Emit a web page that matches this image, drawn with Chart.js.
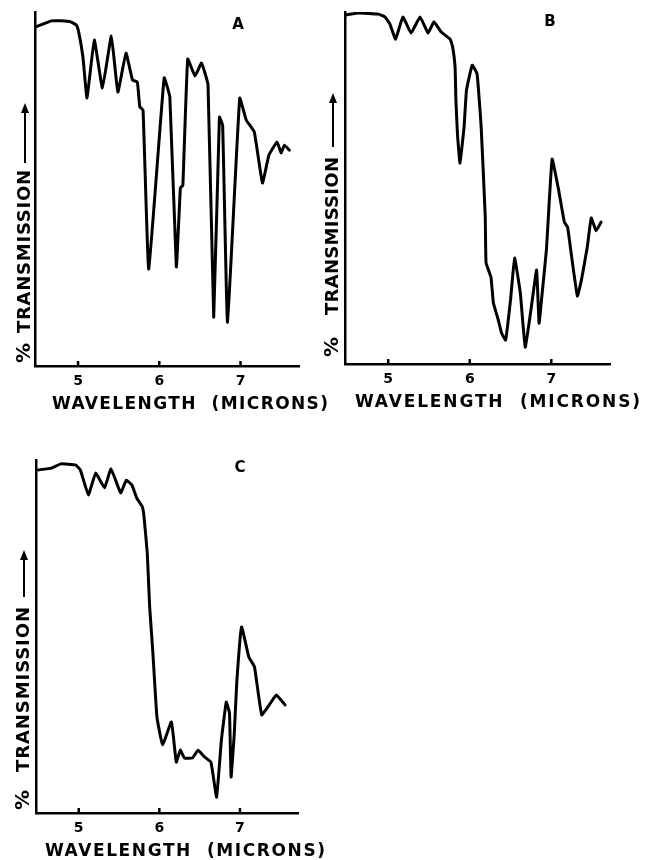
<!DOCTYPE html>
<html><head><meta charset="utf-8">
<script src="https://cdn.jsdelivr.net/npm/chart.js@4/dist/chart.umd.min.js"></script>
<style>html,body{margin:0;padding:0;background:#fff;width:646px;height:860px;overflow:hidden}canvas{position:absolute}</style>
</head><body>
<canvas id="cA" width="336" height="420" style="left:0;top:0"></canvas>
<canvas id="cB" width="336" height="420" style="left:310px;top:0"></canvas>
<canvas id="cC" width="336" height="430" style="left:0;top:430px"></canvas>
<script>
// ---- data ----
const tickValues = [5, 6, 7];
const tickLabels = ['5', '6', '7'];
const panelLabels = ['A', 'B', 'C'];
const xTitle = 'WAVELENGTH  (MICRONS)';
const yTitle = 'TRANSMISSION';
const yPercent = '%';

const wavelengthA = [4.48, 4.67, 4.79, 4.91, 4.98, 5.01, 5.06, 5.11, 5.20, 5.30, 5.41, 5.49, 5.59, 5.67, 5.73, 5.76, 5.80, 5.87, 6.06, 6.13, 6.21, 6.26, 6.29, 6.35, 6.44, 6.52, 6.60, 6.67, 6.74, 6.78, 6.84, 6.99, 7.07, 7.17, 7.27, 7.35, 7.45, 7.50, 7.54, 7.60];
const transmissionA = [95.8, 97.5, 97.5, 97.2, 96.3, 94.1, 87.3, 75.7, 92.1, 78.5, 93.2, 77.4, 88.4, 80.8, 80.2, 73.2, 72.3, 27.4, 81.4, 76.0, 28.0, 50.3, 51.0, 86.7, 81.9, 85.6, 79.4, 13.8, 70.3, 68.0, 12.4, 75.7, 69.5, 66.1, 51.7, 59.6, 63.3, 60.2, 62.4, 61.0];

const wavelengthB = [4.47, 4.63, 4.88, 4.96, 5.02, 5.09, 5.18, 5.28, 5.39, 5.49, 5.56, 5.65, 5.76, 5.79, 5.82, 5.83, 5.85, 5.88, 5.93, 5.96, 6.03, 6.09, 6.14, 6.19, 6.20, 6.26, 6.29, 6.35, 6.39, 6.44, 6.50, 6.55, 6.62, 6.68, 6.75, 6.82, 6.85, 6.88, 6.94, 7.01, 7.09, 7.16, 7.20, 7.25, 7.32, 7.37, 7.44, 7.49, 7.55, 7.61];
const transmissionB = [99.1, 99.7, 99.4, 98.6, 96.6, 92.3, 98.6, 94.0, 98.6, 94.0, 97.2, 94.3, 92.3, 90.1, 84.4, 75.0, 65.1, 57.1, 67.3, 77.8, 84.9, 82.4, 67.3, 41.8, 28.7, 24.7, 17.3, 12.5, 8.8, 6.8, 18.2, 30.1, 20.2, 4.8, 15.3, 26.7, 11.6, 18.2, 32.4, 58.2, 49.4, 40.3, 38.9, 30.4, 19.3, 23.9, 33.0, 41.5, 37.8, 40.3];

const wavelengthC = [4.50, 4.66, 4.78, 4.96, 5.02, 5.12, 5.21, 5.32, 5.40, 5.52, 5.59, 5.66, 5.72, 5.79, 5.81, 5.85, 5.88, 5.92, 5.97, 6.04, 6.15, 6.21, 6.26, 6.31, 6.41, 6.48, 6.56, 6.64, 6.71, 6.77, 6.83, 6.87, 6.89, 6.93, 6.96, 7.02, 7.11, 7.18, 7.27, 7.38, 7.45, 7.56];
const transmissionC = [97.2, 97.7, 98.9, 98.6, 97.2, 90.1, 96.3, 92.1, 97.5, 90.7, 94.3, 92.9, 89.2, 86.7, 83.9, 73.7, 58.4, 45.3, 27.2, 19.3, 25.8, 14.4, 17.8, 15.6, 15.6, 17.8, 15.9, 14.4, 4.5, 20.7, 31.4, 28.3, 10.2, 22.7, 36.8, 52.7, 44.2, 41.4, 27.8, 31.2, 33.4, 30.6];

const xMin = 4.47, xMax = 7.72, yMin = 0, yMax = 100;

// ---- drawing ----
const FONT = '"DejaVu Sans", "Liberation Sans", sans-serif';

function fitText(ctx, t, x, y, w) {
  ctx.letterSpacing = '0px';
  const m = ctx.measureText(t).width;
  const ls = (w - m) / (t.length - 1);
  ctx.letterSpacing = ls.toFixed(2) + 'px';
  ctx.fillText(t, x, y);
  ctx.letterSpacing = '0px';
}

const decor = {
  id: 'decor',
  afterDraw(chart, args, o) {
    const ctx = chart.ctx, ca = chart.chartArea, xs = chart.scales.x;
    ctx.save();
    ctx.fillStyle = '#000';
    ctx.strokeStyle = '#000';
    ctx.lineWidth = 2.5;
    tickValues.forEach(v => {
      const px = xs.getPixelForValue(v);
      ctx.beginPath();
      ctx.moveTo(px, ca.bottom);
      ctx.lineTo(px, ca.bottom - 5);
      ctx.stroke();
    });
    ctx.font = 'bold 15px ' + FONT;
    ctx.textAlign = 'center';
    ctx.textBaseline = 'middle';
    ctx.fillText(o.letter, o.letterX, o.letterY);
    ctx.font = 'bold 17px ' + FONT;
    ctx.textAlign = 'left';
    fitText(ctx, xTitle, o.xtX, o.xtY, o.xtW);
    ctx.translate(ca.left + o.ytDx, ca.bottom);
    ctx.rotate(-Math.PI / 2);
    ctx.font = 'bold 18px ' + FONT;
    ctx.textAlign = 'left';
    fitText(ctx, yTitle, o.ytStart, 0, o.ytLen);
    ctx.font = 'bold 20px ' + FONT;
    ctx.textAlign = 'center';
    ctx.fillText(yPercent, o.pct, 0);
    ctx.lineWidth = 2;
    ctx.beginPath();
    ctx.moveTo(o.arrowFrom, 0);
    ctx.lineTo(o.arrowTo - 6, 0);
    ctx.stroke();
    ctx.beginPath();
    ctx.moveTo(o.arrowTo, 0);
    ctx.lineTo(o.arrowTo - 10, -4);
    ctx.lineTo(o.arrowTo - 10, 4);
    ctx.closePath();
    ctx.fill();
    ctx.restore();
  }
};

function makeChart(id, wl, tr, pad, xH, deco) {
  const pts = wl.map((w, i) => ({ x: w, y: tr[i] }));
  return new Chart(document.getElementById(id), {
    type: 'line',
    data: { datasets: [{
      data: pts,
      borderColor: '#000',
      borderWidth: 3,
      pointRadius: 0,
      tension: 0.1,
      fill: false,
      borderJoinStyle: 'round',
      borderCapStyle: 'round'
    }] },
    options: {
      responsive: false,
      animation: false,
      devicePixelRatio: 1,
      layout: { padding: pad },
      plugins: { legend: { display: false }, tooltip: { enabled: false }, decor: deco },
      scales: {
        x: {
          type: 'linear', min: xMin, max: xMax,
          grid: { display: false, drawTicks: false },
          border: { display: true, color: '#000', width: 2.5 },
          ticks: {
            color: '#000', padding: 7,
            font: { family: FONT, weight: 'bold', size: 14 },
            callback: v => { const i = tickValues.indexOf(v); return i >= 0 ? tickLabels[i] : ''; }
          },
          afterBuildTicks: s => { s.ticks = tickValues.map(v => ({ value: v })); },
          afterFit: s => { s.height = xH; }
        },
        y: {
          type: 'linear', min: yMin, max: yMax,
          grid: { display: false, drawTicks: false },
          border: { display: true, color: '#000', width: 2.5 },
          ticks: { display: false },
          afterFit: s => { s.width = pad.yW; }
        }
      }
    },
    plugins: [decor]
  });
}

makeChart('cA', wavelengthA, transmissionA,
  { left: 0, top: 12, right: 37, bottom: 0, yW: 35 }, 54,
  { letter: panelLabels[0], letterX: 238, letterY: 25, xtX: 52, xtY: 405, xtW: 276,
    ytDx: -10, ytStart: 33, ytLen: 163, pct: 13, arrowFrom: 203, arrowTo: 263 });

makeChart('cB', wavelengthB, transmissionB,
  { left: 0, top: 12, right: 36, bottom: 0, yW: 35 }, 56,
  { letter: panelLabels[1], letterX: 240, letterY: 22, xtX: 45, xtY: 403, xtW: 285,
    ytDx: -12, ytStart: 49, ytLen: 158, pct: 17, arrowFrom: 217, arrowTo: 271 });

makeChart('cC', wavelengthC, transmissionC,
  { left: 0, top: 30, right: 38, bottom: 0, yW: 36 }, 47,
  { letter: panelLabels[2], letterX: 240, letterY: 38, xtX: 45, xtY: 422, xtW: 280,
    ytDx: -12, ytStart: 41, ytLen: 165, pct: 13, arrowFrom: 216, arrowTo: 263 });
</script>
</body></html>
